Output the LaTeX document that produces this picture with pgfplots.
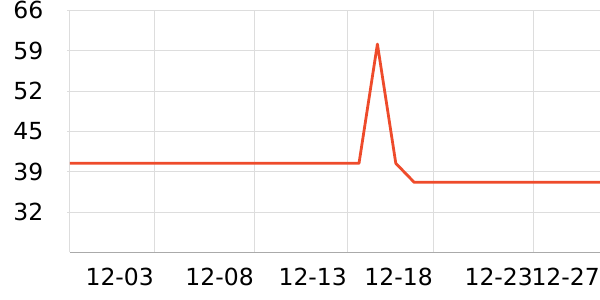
\documentclass[border=0pt]{standalone}
\usepackage{pgfplots}
\pgfplotsset{compat=1.18}
\usepackage{fontspec}
\setmainfont{DejaVu Sans}
\definecolor{linec}{HTML}{EE4B2B}
\definecolor{gridc}{HTML}{DDDDDD}
\definecolor{axc}{HTML}{AAAAAA}
\begin{document}
\begin{tikzpicture}
\begin{axis}[
  scale only axis,
  width=530bp, height=242bp,
  xmin=-1.71, xmax=27.1,
  ymin=25.4, ymax=66.2,
  axis x line*=bottom,
  axis y line*=left,
  x axis line style={draw=axc, line width=1bp, -},
  y axis line style={draw=gridc, line width=1bp, -},
  xtick={2.86,8.29,13.35,18.02,23.46,27.1},
  xticklabels={12-03,12-08,12-13,12-18,12-23,12-27},
  ytick={32.2,39,45.8,52.6,59.4,66.2},
  yticklabels={32,39,45,52,59,66},
  xmajorgrids, ymajorgrids,
  major grid style={draw=gridc, line width=0.8bp},
  x tick style={draw=none},
  y tick style={draw=gridc, line width=0.8bp},
  tick align=outside,
  major tick length=2.5bp,
  xticklabel style={anchor=north east, inner sep=0pt, yshift=-12.7bp, font=\fontsize{23.5bp}{28bp}\selectfont},
  yticklabel style={anchor=east, inner sep=0pt, xshift=-24bp, font=\fontsize{23.5bp}{28bp}\selectfont},
  clip=false,
]
\addplot[linec, line width=2.8bp, line join=round] coordinates {
  (-1.71,40.4) (0,40.4) (1,40.4) (2,40.4) (3,40.4) (4,40.4) (5,40.4) (6,40.4)
  (7,40.4) (8,40.4) (9,40.4) (10,40.4) (11,40.4) (12,40.4) (13,40.4) (14,40.4)
  (15,60.5) (16,40.4) (17,37.2) (18,37.2) (19,37.2) (20,37.2) (21,37.2)
  (22,37.2) (23,37.2) (24,37.2) (25,37.2) (26,37.2) (27.1,37.2)
};
\end{axis}
\pgfresetboundingbox
\path[use as bounding box] ([xshift=-70bp,yshift=-47.7bp]current axis.south west) rectangle ([yshift=10.3bp]current axis.north east);
\end{tikzpicture}
\end{document}
